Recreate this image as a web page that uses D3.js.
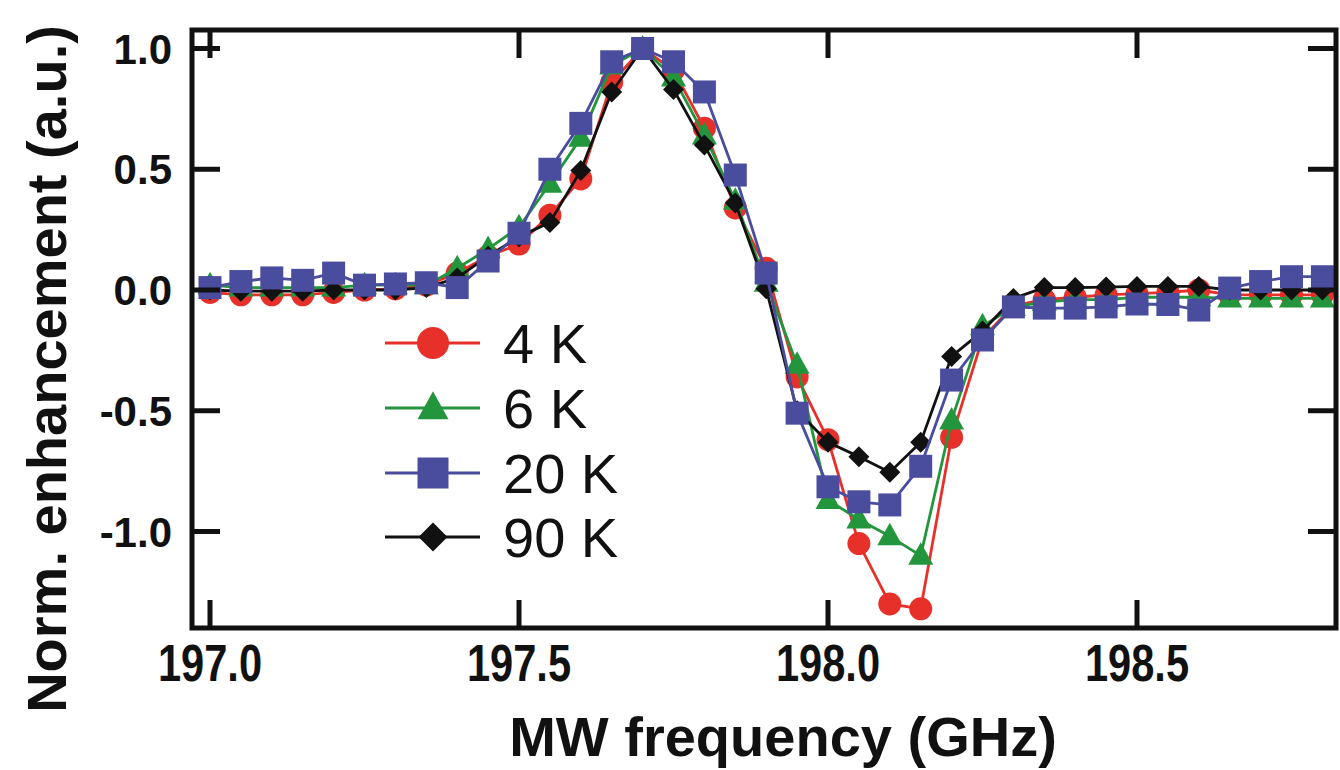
<!DOCTYPE html>
<html>
<head>
<meta charset="utf-8">
<script src="https://cdn.jsdelivr.net/npm/d3@7"></script>
<style>
  body { margin: 0; background: #fff; }
  svg { display: block; font-family: "Liberation Sans", Arial, sans-serif; }
</style>
</head>
<body>
<div id="chart"></div>
<script>
// data
const freq = [197.00, 197.05, 197.10, 197.15, 197.20, 197.25, 197.30, 197.35, 197.40, 197.45,
              197.50, 197.55, 197.60, 197.65, 197.70, 197.75, 197.80, 197.85, 197.90, 197.95,
              198.00, 198.05, 198.10, 198.15, 198.20, 198.25, 198.30, 198.35, 198.40, 198.45,
              198.50, 198.55, 198.60, 198.65, 198.70, 198.75, 198.80];
const k4 = [-0.01, -0.02, -0.02, -0.02, -0.01, 0.0, 0.005, 0.02, 0.07, 0.14,
            0.19, 0.31, 0.46, 0.86, 1.0, 0.91, 0.67, 0.34, 0.09, -0.36,
            -0.62, -1.05, -1.30, -1.32, -0.61, -0.20, -0.065, -0.04, -0.03, -0.02,
            -0.015, -0.01, 0.0, -0.02, -0.02, -0.02, -0.02];
const k6 = [0.02, 0.01, 0.01, 0.01, 0.01, 0.02, 0.02, 0.02, 0.09, 0.17,
            0.26, 0.44, 0.63, 0.93, 1.0, 0.88, 0.64, 0.37, 0.03, -0.31,
            -0.87, -0.95, -1.02, -1.10, -0.54, -0.15, -0.07, -0.05, -0.04, -0.04,
            -0.03, -0.03, -0.03, -0.035, -0.035, -0.035, -0.035];
const k20 = [0.01, 0.035, 0.05, 0.04, 0.07, 0.02, 0.025, 0.03, 0.01, 0.12,
             0.235, 0.50, 0.69, 0.945, 1.0, 0.945, 0.82, 0.476, 0.07, -0.51,
             -0.815, -0.877, -0.89, -0.73, -0.373, -0.207, -0.07, -0.075, -0.075, -0.07,
             -0.058, -0.06, -0.083, 0.008, 0.035, 0.055, 0.055];
const k90 = [0.0, -0.005, -0.005, -0.005, 0.0, 0.0, 0.0, 0.01, 0.05, 0.14,
             0.22, 0.28, 0.495, 0.82, 1.0, 0.83, 0.60, 0.36, 0.005, -0.50,
             -0.63, -0.69, -0.755, -0.63, -0.275, -0.17, -0.035, 0.01, 0.01, 0.012,
             0.015, 0.015, 0.015, 0.0, 0.0, 0.0, 0.0];
const seriesNames = ["4 K", "6 K", "20 K", "90 K"];
const xTicks = [197.0, 197.5, 198.0, 198.5];
const yTicks = [1.0, 0.5, 0.0, -0.5, -1.0];

const width = 1340, height = 770;
const frame = { left: 192, right: 1336, top: 30, bottom: 628 };

const series = [
    { name: seriesNames[0], values: k4, color: "#e8302a", shape: "circle" },
    { name: seriesNames[1], values: k6, color: "#23963d", shape: "triangle" },
    { name: seriesNames[3], values: k90, color: "#111111", shape: "diamond" },
    { name: seriesNames[2], values: k20, color: "#4a4c9e", shape: "square" }
];
const legendOrder = [series[0], series[1], series[3], series[2]];

const x = d3.scaleLinear().domain([197.0, 198.5]).range([210, 1137]);
const y = d3.scaleLinear().domain([0, 1]).range([290, 48.5]);

const svg = d3.select("#chart").append("svg")
    .attr("width", width).attr("height", height);
svg.append("rect").attr("width", width).attr("height", height).attr("fill", "#fff");

// marker shapes, size = overall width in px
function markerPath(shape, s) {
    const h = s / 2;
    switch (shape) {
        case "circle":
            return d3.symbol(d3.symbolCircle, Math.PI * h * h)();
        case "square":
            return `M${-h},${-h}H${h}V${h}H${-h}Z`;
        case "triangle": {
            const th = s * 0.9;
            return `M0,${-th * 0.6}L${h},${th * 0.4}L${-h},${th * 0.4}Z`;
        }
        case "diamond":
            return `M0,${-h}L${h},0L0,${h}L${-h},0Z`;
    }
}
const plotSize = { circle: 23, square: 23, triangle: 25, diamond: 21 };
const legendSize = { circle: 32, square: 31, triangle: 31, diamond: 29 };

// data
const line = d3.line().x((d, i) => x(freq[i])).y(d => y(d));
const gData = svg.append("g");
series.forEach(s => {
    const g = gData.append("g");
    g.append("path").datum(s.values)
        .attr("d", line)
        .attr("fill", "none")
        .attr("stroke", s.color)
        .attr("stroke-width", 2.8)
        .attr("stroke-linejoin", "round");
    g.selectAll("path.mk").data(s.values).enter()
        .append("path").attr("class", "mk")
        .attr("d", markerPath(s.shape, plotSize[s.shape]))
        .attr("transform", (d, i) => `translate(${x(freq[i])},${y(d)})`)
        .attr("fill", s.color);
});

// frame + inward ticks
const axisColor = "#111";
const tickLen = 28;
const gAxis = svg.append("g").attr("stroke", axisColor).attr("stroke-width", 5);
gAxis.append("rect")
    .attr("x", frame.left).attr("y", frame.top)
    .attr("width", frame.right - frame.left).attr("height", frame.bottom - frame.top)
    .attr("fill", "none");
xTicks.forEach(t => {
    gAxis.append("line").attr("x1", x(t)).attr("x2", x(t))
        .attr("y1", frame.bottom).attr("y2", frame.bottom - tickLen);
    gAxis.append("line").attr("x1", x(t)).attr("x2", x(t))
        .attr("y1", frame.top).attr("y2", frame.top + tickLen);
});
yTicks.forEach(t => {
    gAxis.append("line").attr("y1", y(t)).attr("y2", y(t))
        .attr("x1", frame.left).attr("x2", frame.left + tickLen);
    gAxis.append("line").attr("y1", y(t)).attr("y2", y(t))
        .attr("x1", frame.right).attr("x2", frame.right - tickLen);
});

// tick labels (x labels are a narrow face in the original)
svg.append("g").selectAll("text").data(xTicks).enter()
    .append("text")
    .attr("transform", d => `translate(${x(d)},681) scale(0.8,1)`)
    .attr("text-anchor", "middle")
    .attr("font-size", 52).attr("font-weight", "bold").attr("fill", axisColor)
    .text(d => d.toFixed(1));
svg.append("g").selectAll("text").data(yTicks).enter()
    .append("text")
    .attr("x", 172).attr("y", d => y(d) + 15)
    .attr("text-anchor", "end")
    .attr("font-size", 42).attr("font-weight", "bold").attr("fill", axisColor)
    .text(d => d.toFixed(1));

// axis titles
svg.append("text")
    .attr("x", 783).attr("y", 756)
    .attr("text-anchor", "middle")
    .attr("font-size", 56).attr("font-weight", "bold").attr("fill", axisColor)
    .text("MW frequency (GHz)");
svg.append("text")
    .attr("transform", "translate(66,369) rotate(-90)")
    .attr("text-anchor", "middle")
    .attr("font-size", 56).attr("font-weight", "bold").attr("fill", axisColor)
    .text("Norm. enhancement (a.u.)");

// legend
const legendY = [343, 408, 473, 537];
const gLegend = svg.append("g");
legendOrder.forEach((s, i) => {
    const ly = legendY[i];
    gLegend.append("line")
        .attr("x1", 385).attr("x2", 480).attr("y1", ly).attr("y2", ly)
        .attr("stroke", s.color).attr("stroke-width", 3);
    gLegend.append("path")
        .attr("d", markerPath(s.shape, legendSize[s.shape]))
        .attr("transform", `translate(433,${ly})`)
        .attr("fill", s.color);
    gLegend.append("text")
        .attr("x", 503).attr("y", ly + 20)
        .attr("font-size", 56).attr("fill", axisColor)
        .text(s.name);
});
</script>
</body>
</html>
